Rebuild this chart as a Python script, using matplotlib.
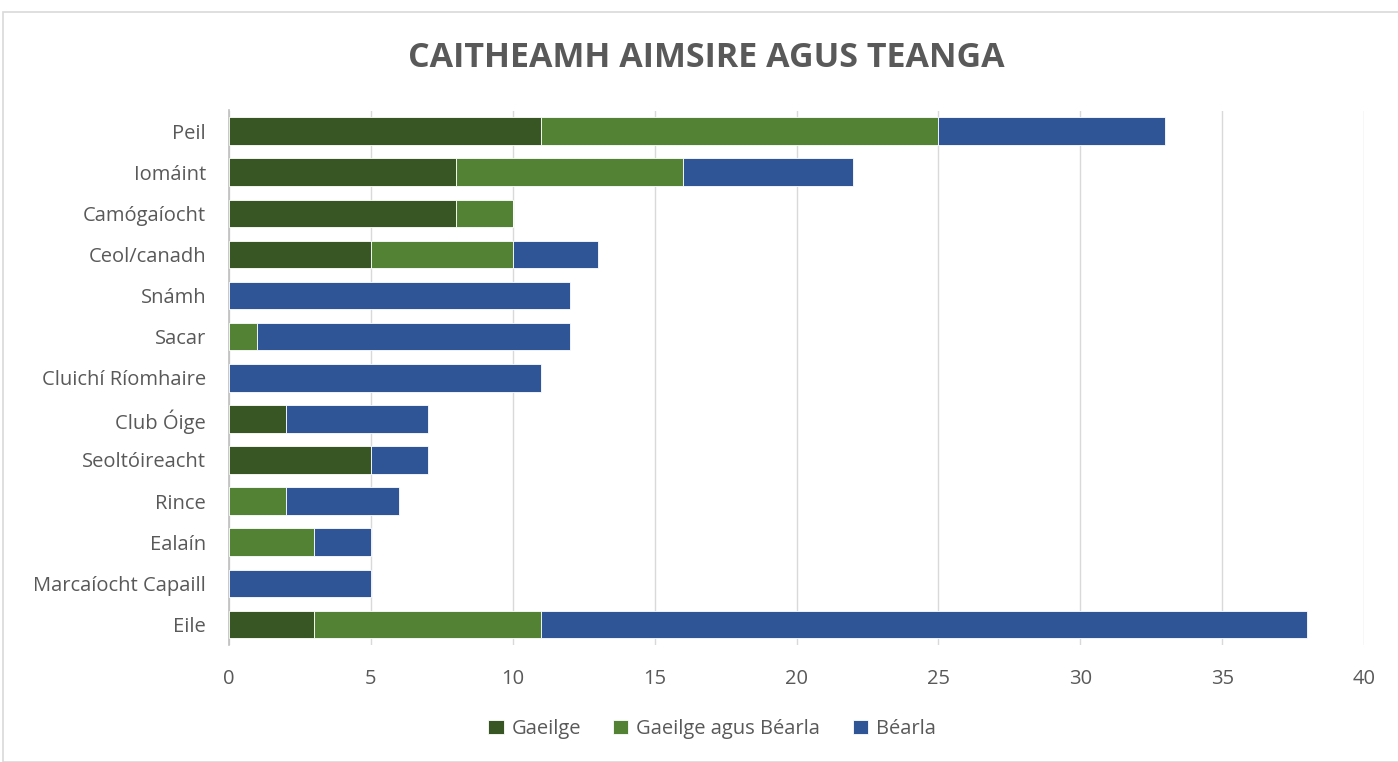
import matplotlib
matplotlib.use("Agg")
import matplotlib.pyplot as plt
from matplotlib.patches import Rectangle

categories = ["Peil", "Iomáint", "Camógaíocht", "Ceol/canadh", "Snámh", "Sacar",
              "Cluichí Ríomhaire", "Club Óige", "Seoltóireacht", "Rince", "Ealaín",
              "Marcaíocht Capaill", "Eile"]
gaeilge = [11, 8, 8, 5, 0, 0, 0, 2, 5, 0, 0, 0, 3]
gaeilge_bearla = [14, 8, 2, 5, 0, 1, 0, 0, 0, 2, 3, 0, 8]
bearla = [8, 6, 0, 3, 12, 11, 11, 5, 2, 4, 2, 5, 27]
series_names = ["Gaeilge", "Gaeilge agus Béarla", "Béarla"]
colors = ["#375623", "#548235", "#2F5597"]
xticks = [0, 5, 10, 15, 20, 25, 30, 35, 40]

plt.rcParams['font.family'] = ['Open Sans', 'DejaVu Sans']
txt = "#595959"

fig = plt.figure(figsize=(13.98, 7.62), dpi=100)
ax = fig.add_axes([229/1398, 1-645/762, (1364-229)/1398, (645-110.5)/762])

y = list(range(len(categories)))
left = [0]*len(categories)
for vals, name, c in zip([gaeilge, gaeilge_bearla, bearla], series_names, colors):
    ax.barh(y, vals, left=left, height=0.67, color=c, label=name,
            edgecolor="white", linewidth=0.6, zorder=3)
    left = [l+v for l, v in zip(left, vals)]

ax.set_ylim(len(categories)-0.5, -0.5)
ax.set_xlim(0, 40)
ax.set_xticks(xticks)
ax.set_yticks(y)
ax.set_yticklabels(categories)
ax.tick_params(axis='both', length=0, colors=txt, labelsize=14.5)
ax.tick_params(axis='x', pad=17)
ax.tick_params(axis='y', pad=16.5)
ax.grid(axis='x', color="#D9D9D9", linewidth=1, zorder=0)
for s in ["top", "right", "bottom"]:
    ax.spines[s].set_visible(False)
ax.spines["left"].set_color("#BFBFBF")
ax.spines["left"].set_linewidth(1.2)

fig.text(706/1398, 1-58/762, "CAITHEAMH AIMSIRE AGUS TEANGA", ha="center", va="center",
         fontsize=24.5, fontweight="bold", color=txt)

leg = fig.legend(loc="center", bbox_to_anchor=(712/1398, 1-729/762), ncol=3, frameon=False,
                 fontsize=14.5, handlelength=0.75, handleheight=0.75, columnspacing=1.6,
                 handletextpad=0.4, labelcolor=txt)

fig.patches.append(Rectangle((3/1398, 0), 1, 1-12/762, transform=fig.transFigure,
                             fill=False, edgecolor="#D9D9D9", linewidth=1.2))

fig.savefig("out.png", dpi=100)
